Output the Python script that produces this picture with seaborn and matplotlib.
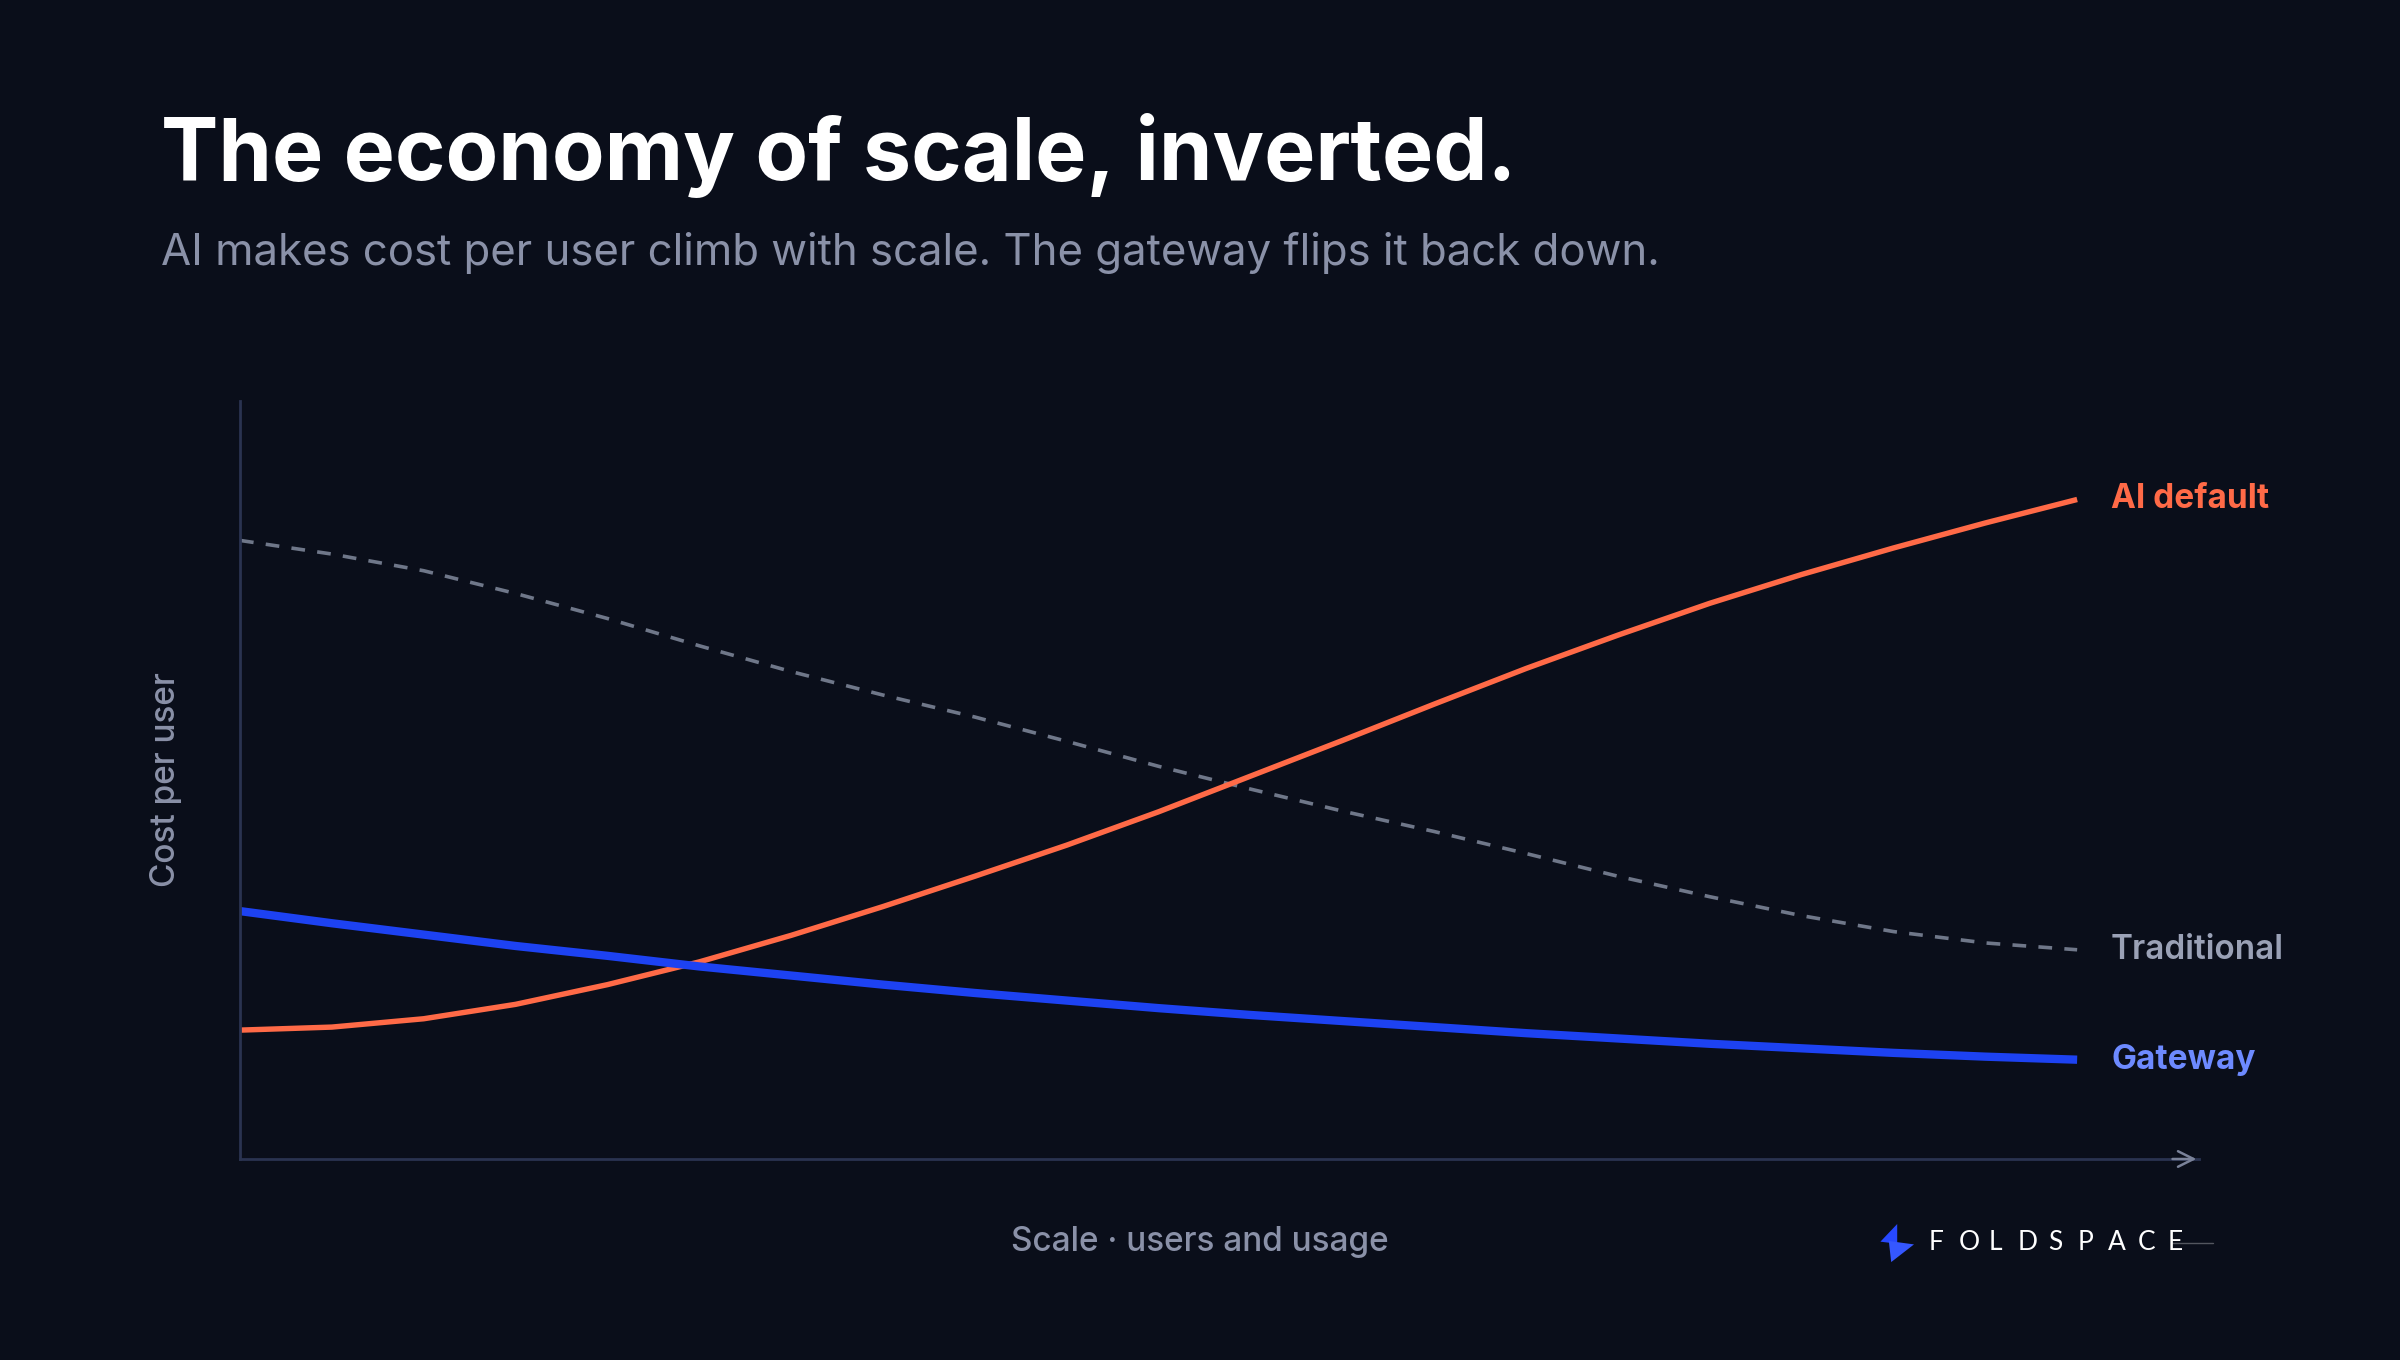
import matplotlib
matplotlib.use("Agg")
import matplotlib.pyplot as plt
from matplotlib.patches import Polygon
from matplotlib.lines import Line2D
import numpy as np
import pandas as pd
import seaborn as sns

# scale steps (0 = left axis, 1 = end of lines)
scale = [0.0, 0.05, 0.1, 0.15, 0.2, 0.25, 0.3, 0.35, 0.4, 0.45, 0.5,
         0.55, 0.6, 0.65, 0.7, 0.75, 0.8, 0.85, 0.9, 0.95, 1.0]
ai_default = [17.0, 17.4, 18.5, 20.4, 23.0, 26.0, 29.5, 33.3, 37.3, 41.4, 45.8,
              50.5, 55.2, 60.0, 64.7, 69.1, 73.3, 77.1, 80.6, 83.9, 87.0]
traditional = [81.6, 79.8, 77.6, 74.6, 71.3, 67.7, 64.3, 61.2, 58.3, 55.1, 51.8,
               48.8, 45.9, 43.2, 40.3, 37.3, 34.6, 32.1, 30.0, 28.5, 27.6]
gateway = [32.7, 31.1, 29.6, 28.1, 26.8, 25.4, 24.2, 23.0, 21.9, 20.9, 19.9,
           19.0, 18.2, 17.4, 16.6, 15.9, 15.2, 14.6, 14.0, 13.5, 13.1]

series_names = ["AI default", "Traditional", "Gateway"]
line_colors = ["#ff6a47", "#6f7789", "#1d42f2"]
label_colors = ["#ff6a47", "#9aa1b6", "#6d8aff"]
logo_letters = list("FOLDSPACE")

BG = "#0a0e1a"

sns.set_style("dark", {"axes.facecolor": BG, "figure.facecolor": BG})
plt.rcParams["font.family"] = ["Inter", "DejaVu Sans"]

df = pd.DataFrame({"scale": scale, "AI default": ai_default,
                   "Traditional": traditional, "Gateway": gateway})

fig = plt.figure(figsize=(24, 13.6), dpi=100)
fig.patch.set_facecolor(BG)
ax = fig.add_axes([0.1, 0.1478, 0.8163, 0.5574])
ax.set_facecolor(BG)

sns.lineplot(data=df, x="scale", y="Traditional", ax=ax, color=line_colors[1],
             linewidth=2.6, linestyle=(0, (3.8, 3.4)))
sns.lineplot(data=df, x="scale", y="AI default", ax=ax, color=line_colors[0],
             linewidth=3.9, solid_capstyle="butt", solid_joinstyle="round")
sns.lineplot(data=df, x="scale", y="Gateway", ax=ax, color=line_colors[2],
             linewidth=6.0, solid_capstyle="butt", solid_joinstyle="round")

ax.set_xlim(0, 1.0664)
ax.set_ylim(0, 100)
ax.set_xticks([])
ax.set_yticks([])
ax.grid(False)
for s in ["top", "right"]:
    ax.spines[s].set_visible(False)
for s in ["left", "bottom"]:
    ax.spines[s].set_visible(True)
    ax.spines[s].set_color("#2a3350")
    ax.spines[s].set_linewidth(2)

# arrow head at end of x axis
ax.annotate("", xy=(1.0, 0), xytext=(0.985, 0), xycoords="axes fraction",
            arrowprops=dict(arrowstyle="->", color="#7a8299", lw=1.8,
                            mutation_scale=28), annotation_clip=False)

ax.set_xlabel("Scale · users and usage", fontsize=24, color="#8a91a8",
              fontweight="medium")
ax.xaxis.set_label_coords(0.49, -0.088)
ax.set_ylabel("Cost per user", fontsize=24, color="#8a91a8",
              fontweight="medium")
ax.yaxis.set_label_coords(-0.0295, 0.5)

# end-of-line labels
last = [ai_default[-1], traditional[-1], gateway[-1]]
for name, yv, c in zip(series_names, last, label_colors):
    ax.text(scale[-1] + 0.0185, yv, name, color=c, fontsize=24,
            fontweight="bold" if name != "Traditional" else "semibold",
            va="center", ha="left", clip_on=False)

fig.text(0.067, 0.886, "The economy of scale, inverted.", fontsize=62,
         fontweight="bold", color="white", va="center", ha="left")
fig.text(0.067, 0.814, "AI makes cost per user climb with scale. The gateway flips it back down.",
         fontsize=31.5, color="#8a91a8", va="center", ha="left")

# logo
fig.patches.append(Polygon([[0.7905, 0.1000], [0.7835, 0.0870], [0.7905, 0.0855]],
                           closed=True, transform=fig.transFigure,
                           facecolor="#2748ff", edgecolor="none"))
fig.patches.append(Polygon([[0.7870, 0.0875], [0.7975, 0.0850], [0.7880, 0.0720]],
                           closed=True, transform=fig.transFigure,
                           facecolor="#3557ff", edgecolor="none"))
for i, ch in enumerate(logo_letters):
    fig.text(0.8035 + i * 0.01245, 0.0862, ch, fontsize=19, color="white",
             va="center", ha="left", family=["Lato", "DejaVu Sans"])
fig.lines.append(Line2D([0.905, 0.922], [0.0862, 0.0862], transform=fig.transFigure,
                        color="white", alpha=0.3, lw=1))

fig.savefig("out.png", dpi=100, facecolor=BG)
